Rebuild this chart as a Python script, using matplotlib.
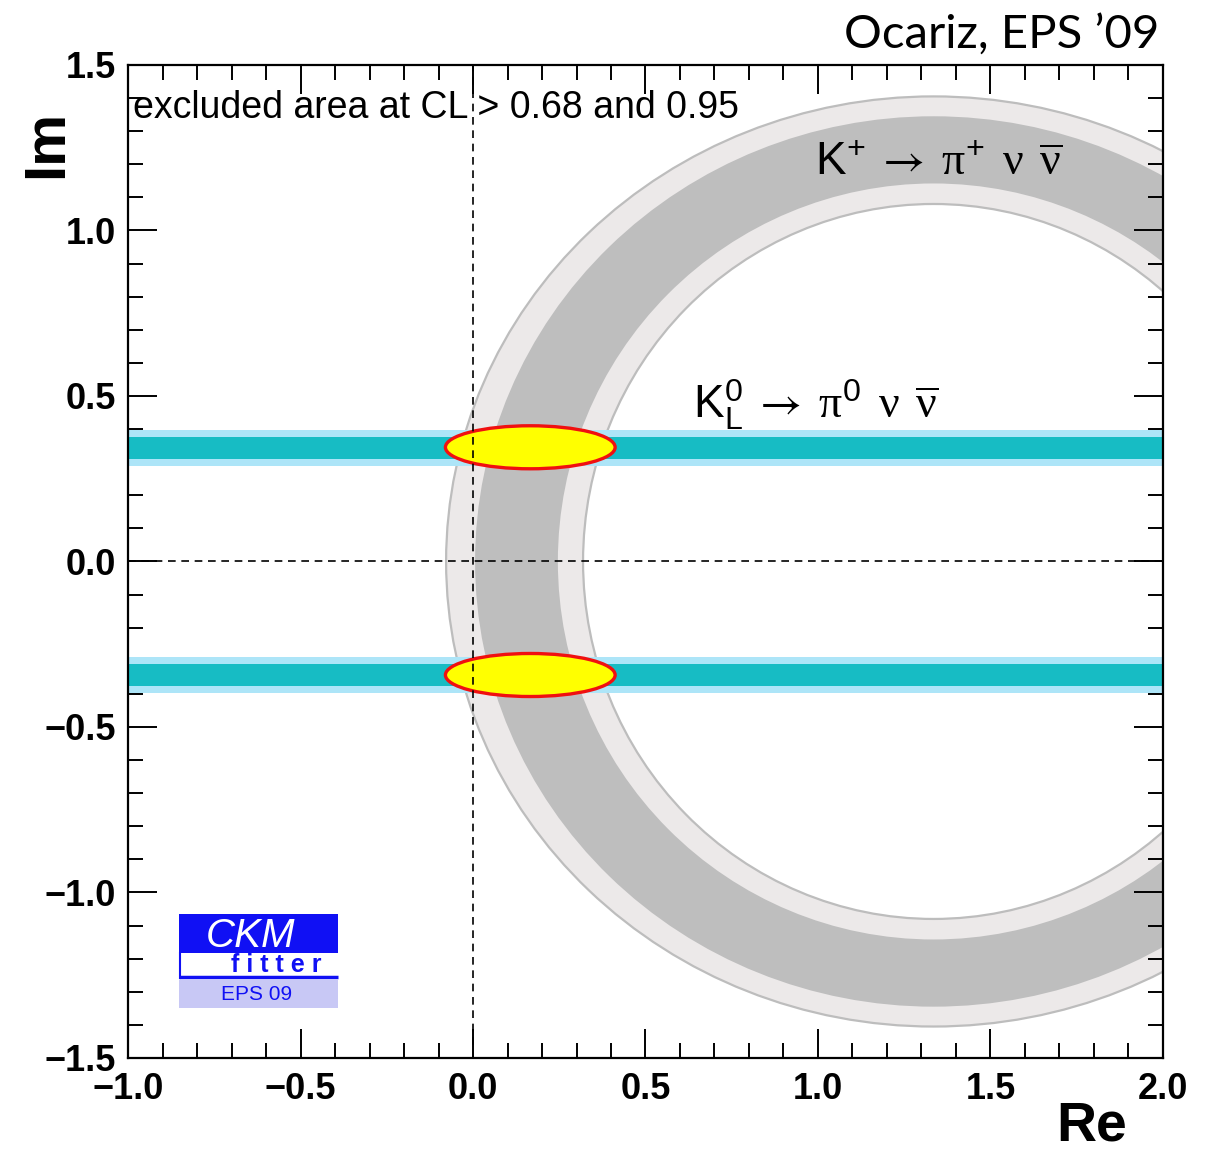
import matplotlib
matplotlib.use("Agg")
import matplotlib.pyplot as plt
from matplotlib.patches import Ellipse, Rectangle
from matplotlib.ticker import MultipleLocator, FixedLocator

plt.rcParams["font.family"] = ["Liberation Sans", "DejaVu Sans"]
plt.rcParams["mathtext.fontset"] = "custom"
plt.rcParams["mathtext.rm"] = "STIXGeneral"
plt.rcParams["mathtext.it"] = "STIXGeneral:italic"
plt.rcParams["mathtext.sf"] = "Liberation Sans"
plt.rcParams["mathtext.tt"] = "Liberation Serif"   # upright serif Greek

# K+ -> pi+ nu nubar ring: contours of the 95% / 68% regions (semi-axes, centred on the real axis)
ring_center = (1.335, 0.0)
ring_semi_x = [1.413, 1.329, 1.089, 1.016]   # outer 95, outer 68, inner 68, inner 95
ring_semi_y = [1.405, 1.345, 1.142, 1.080]

# KL -> pi0 nu nubar bands (|Im| fixed)
kl_centers = [0.343, -0.343]
kl_half68 = 0.032
kl_half95 = 0.055

# combined allowed regions
combo_x = [0.166, 0.166]
combo_y = [0.345, -0.343]
combo_w = [0.492, 0.492]
combo_h = [0.130, 0.130]

x_ticks = [-1.0, -0.5, 0.0, 0.5, 1.0, 1.5, 2.0]
y_ticks = [-1.5, -1.0, -0.5, 0.0, 0.5, 1.0, 1.5]

LIGHT_GREY = "#ECE9E9"
DARK_GREY = "#BEBEBE"
EDGE_GREY = "#BDBDBD"
TEAL = "#17BCC4"
LIGHT_BLUE = "#ADE5F8"

fig = plt.figure(figsize=(12.17, 11.56), dpi=100)
ax = fig.add_axes([0.1052, 0.0848, 0.8504, 0.8590])
ax.set_xlim(-1.0, 2.0)
ax.set_ylim(-1.5, 1.5)

# ring, drawn as stacked ellipses from the outside in
ring_fill = [LIGHT_GREY, DARK_GREY, LIGHT_GREY, "white"]
ring_edge = [EDGE_GREY, "none", "none", EDGE_GREY]
for a, b, fc, ec in zip(ring_semi_x, ring_semi_y, ring_fill, ring_edge):
    ax.add_patch(Ellipse(ring_center, 2 * a, 2 * b, facecolor=fc, edgecolor=ec,
                         lw=1.6, zorder=1))

for c in kl_centers:
    ax.axhspan(c - kl_half95, c + kl_half95, color=LIGHT_BLUE, lw=0, zorder=2)
    ax.axhspan(c - kl_half68, c + kl_half68, color=TEAL, lw=0, zorder=2)

for x, y, w, h in zip(combo_x, combo_y, combo_w, combo_h):
    ax.add_patch(Ellipse((x, y), w, h, facecolor="#FFFF00", edgecolor="#F01010",
                         lw=2.4, zorder=3))

dash = (0, (4.6, 3.4))
ax.axvline(0.0, color="black", lw=1.2, ls=dash, zorder=4)
ax.axhline(0.0, color="black", lw=1.2, ls=dash, zorder=4)

# axes styling
ax.xaxis.set_major_locator(FixedLocator(x_ticks))
ax.yaxis.set_major_locator(FixedLocator(y_ticks))
ax.xaxis.set_minor_locator(MultipleLocator(0.1))
ax.yaxis.set_minor_locator(MultipleLocator(0.1))
ax.set_xticklabels([f"{v:.1f}".replace("-", "\u2212") for v in x_ticks])
ax.set_yticklabels([f"{v:.1f}".replace("-", "\u2212") for v in y_ticks])
ax.tick_params(which="both", direction="in", top=True, right=True, width=1.4)
ax.tick_params(which="major", length=21)
ax.tick_params(which="minor", length=11)
ax.tick_params(axis="x", pad=10, labelsize=26)
ax.tick_params(axis="y", pad=9, labelsize=26)
for lab in ax.get_xticklabels() + ax.get_yticklabels():
    lab.set_fontweight("bold")
for sp in ax.spines.values():
    sp.set_linewidth(1.6)
    sp.set_zorder(6)

ax.text(-0.078, 0.92, "Im", rotation=90, fontsize=42, fontweight="bold",
        ha="center", va="center", transform=ax.transAxes)
ax.text(0.931, -0.069, "Re", fontsize=40, fontweight="bold",
        ha="center", va="center", transform=ax.transAxes)

ax.text(0.005, 0.9466, "excluded area at CL > 0.68 and 0.95", fontsize=27,
        ha="left", va="baseline", transform=ax.transAxes, zorder=5)

nus = r"\ \,\mathtt{\nu}\ \,\overline{\mathtt{\nu}}$"
ax.text(0.991, 1.168,
        r"K$^{\mathsf{+}}\;\rightarrow\;\mathtt{\pi}^{\mathsf{+}}" + nus,
        fontsize=33, ha="left", va="baseline", zorder=5)
ax.text(0.638, 0.433,
        r"K$_{\mathsf{L}}^{\mathsf{0}}\;\rightarrow\;\mathtt{\pi}^{\mathsf{0}}" + nus,
        fontsize=33, ha="left", va="baseline", zorder=5)

# CKMfitter logo
BLUE = "#1010F4"
tr = ax.transAxes
ax.add_patch(Rectangle((0.049, 0.106), 0.154, 0.039, facecolor=BLUE, lw=0,
                       transform=tr, zorder=5))
ax.add_patch(Rectangle((0.049, 0.0806), 0.154, 0.0254, facecolor="white",
                       edgecolor="none", transform=tr, zorder=5))
ax.plot([0.050, 0.050], [0.0806, 0.106], color=BLUE, lw=1.5, transform=tr, zorder=6)
ax.plot([0.049, 0.203], [0.0815, 0.0815], color=BLUE, lw=2.5, transform=tr, zorder=6,
        solid_capstyle="butt")
ax.add_patch(Rectangle((0.049, 0.050), 0.154, 0.0285, facecolor="#C8C8F5", lw=0,
                       transform=tr, zorder=5))
ax.text(0.118, 0.112, "CKM", color="white", fontsize=29, style="italic",
        ha="center", va="baseline", transform=tr, zorder=7)
ax.text(0.143, 0.0866, "f i t t e r", color=BLUE, fontsize=18, fontweight="bold",
        ha="center", va="baseline", transform=tr, zorder=7)
ax.text(0.1246, 0.058, "EPS 09", color=BLUE, fontsize=15,
        ha="center", va="baseline", transform=tr, zorder=7)

fig.text(0.953, 0.9585, "Ocariz, EPS \u201909", fontsize=34, family=["Lato", "DejaVu Sans"],
         ha="right", va="baseline")

fig.savefig("out.png", dpi=100)
